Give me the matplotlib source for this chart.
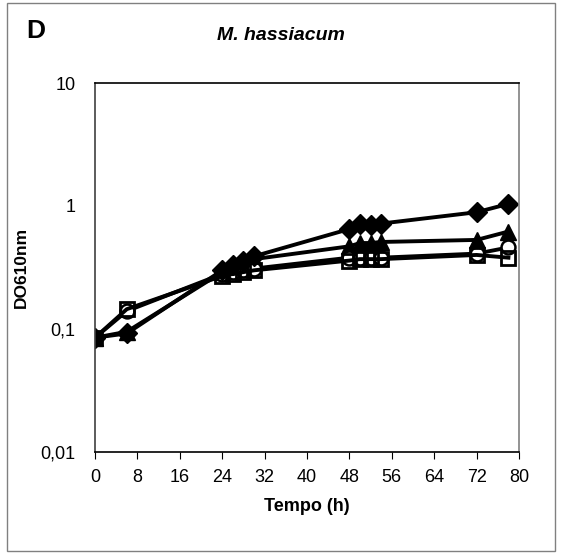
import numpy as np
import matplotlib.pyplot as plt
from matplotlib.patches import Rectangle

plt.rcParams['font.family'] = ['Liberation Sans', 'DejaVu Sans']

# tempo (h)
t = [0, 6, 24, 26, 28, 30, 48, 50, 52, 54, 72, 78]

# DO610nm por curva
losango = [0.085, 0.092, 0.30, 0.33, 0.36, 0.39, 0.65, 0.72, 0.70, 0.72, 0.89, 1.04]
triangulo = [0.085, 0.095, 0.29, 0.31, 0.34, 0.37, 0.47, 0.50, 0.50, 0.51, 0.53, 0.62]
quadrado = [0.085, 0.145, 0.27, 0.28, 0.29, 0.30, 0.36, 0.37, 0.37, 0.37, 0.40, 0.38]
circulo = [0.085, 0.14, 0.28, 0.29, 0.30, 0.31, 0.38, 0.38, 0.38, 0.38, 0.41, 0.46]

xticks = [0, 8, 16, 24, 32, 40, 48, 56, 64, 72, 80]
yticks = [0.01, 0.1, 1, 10]
ylabels = ['0,01', '0,1', '1', '10']

fig = plt.figure(figsize=(5.61, 5.54), dpi=100)
ax = fig.add_axes([95/561, 1 - 452/554, 424/561, 369/554])

lw = 2.8
ax.plot(t, triangulo, '^-', color='black', lw=lw, ms=11, mfc='black', mec='black')
ax.plot(t, circulo, 'o-', color='black', lw=lw, ms=10, mfc='white', mec='black', mew=1.8)
ax.plot(t, quadrado, 's-', color='black', lw=lw, ms=10.5, mfc='none', mec='black', mew=2)
ax.plot(t, losango, 'D-', color='black', lw=lw, ms=10, mfc='black', mec='black')

ax.set_yscale('log')
ax.set_ylim(0.01, 10)
ax.set_xlim(0, 80)
ax.set_yticks(yticks)
ax.set_yticklabels(ylabels)
ax.minorticks_off()
ax.set_xticks(xticks)
ax.tick_params(axis='y', length=0, pad=14, labelsize=13)
ax.tick_params(axis='x', length=5, direction='out', pad=7, labelsize=13)

for s in ['top', 'bottom']:
    ax.spines[s].set_color('black')
ax.spines['left'].set_color('#404040')
ax.spines['right'].set_color('#808080')
for s in ax.spines.values():
    s.set_linewidth(1.2)

ax.set_xlabel('Tempo (h)', fontsize=13, fontweight='bold', labelpad=9)
ax.set_ylabel('DO610nm', fontsize=12.5, fontweight='bold', labelpad=8)

fig.text(281/561, 1 - 36/554, 'M. hassiacum', fontsize=14, fontweight='bold',
         style='italic', ha='center', va='center')
fig.text(26/561, 1 - 31/554, 'D', fontsize=19, fontweight='bold', ha='left', va='center')

fig.patches.append(Rectangle((7/561, 3/554), 548/561, 548/554, transform=fig.transFigure,
                             fill=False, edgecolor='#808080', lw=1))

fig.savefig('out.png', dpi=100)
